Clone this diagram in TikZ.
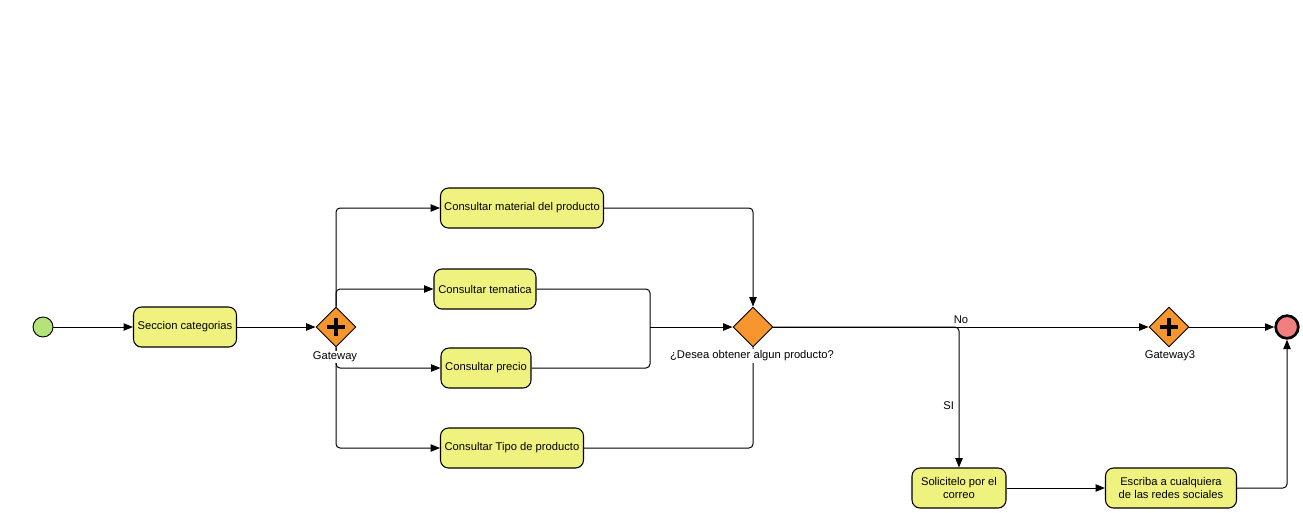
\documentclass[tikz,border=0pt]{standalone}
\usepackage{fontspec}
\setmainfont{Liberation Sans}
\usetikzlibrary{calc,shapes.geometric,arrows.meta}
\definecolor{taskyellow}{RGB}{240,242,128}
\definecolor{gworange}{RGB}{247,150,46}
\definecolor{startgreen}{RGB}{182,226,122}
\definecolor{endred}{RGB}{240,128,128}

\begin{document}
\begin{tikzpicture}[x=0.75pt, y=-0.75pt, font=\fontsize{8.4}{10}\selectfont,
  task/.style={draw, line width=0.8pt, fill=taskyellow, rounded corners=6pt, align=center, inner sep=0pt, minimum height=30pt},
  gate/.style={diamond, draw, line width=0.7pt, fill=gworange, inner sep=0pt, minimum width=30pt, minimum height=30pt},
  flow/.style={line width=0.75pt, rounded corners=3pt, -{Triangle[length=7pt,width=5.5pt]}},
  line/.style={line width=0.75pt, rounded corners=3pt}]
  \useasboundingbox (0,0) rectangle (1303,512);

  \def\drawTask#1#2#3#4#5{
    \node[task, minimum width={#4*0.75pt}] (#1) at (#2,#3) {#5};
  }
  \def\drawPlus#1{
    \draw[line width=3pt] ($(#1.center)+(-9,0)$) -- ($(#1.center)+(9,0)$);
    \draw[line width=3pt] ($(#1.center)+(0,-9)$) -- ($(#1.center)+(0,9)$);
  }

  \node[circle, draw, line width=0.7pt, fill=startgreen, minimum size=15pt, inner sep=0pt] (start) at (43,327) {};
  \drawTask{secc}{185}{327}{103}{Seccion categorias}
  \node[gate] (gw) at (336,327) {};
  \drawPlus{gw}

  \drawTask{mat}{522}{208}{163}{Consultar material del producto}
  \drawTask{tem}{485}{289}{102}{Consultar tematica}
  \drawTask{pre}{486}{368}{90}{Consultar precio}
  \drawTask{tip}{512}{448}{143}{Consultar Tipo de producto}

  \node[gate] (q) at (753,327) {};
  \coordinate (join) at (650,327);

  \node[gate] (gw3) at (1169,327) {};
  \drawPlus{gw3}
  \node[circle, draw, line width=2pt, fill=endred, minimum size=17pt, inner sep=0pt] (fin) at (1287,327) {};

  \drawTask{sol}{959}{488}{94}{Solicitelo por el\\correo}
  \drawTask{esc}{1171}{488}{131}{Escriba a cualquiera\\de las redes sociales}

  \draw[flow] (start) -- (secc);
  \draw[flow] (secc) -- (gw.west);
  \draw[flow] (gw.north) |- (mat.west);
  \draw[flow] (gw.north) |- (tem.west);
  \draw[flow] (gw.south) |- (pre.west);
  \draw[flow] (gw.south) |- (tip.west);
  \draw[flow] (mat.east) -| (q.north);
  \draw[line] (tem.east) -| (join);
  \draw[line] (pre.east) -| (join);
  \draw[flow] (join) -- (q.west);
  \draw[line] (tip.east) -| (q.south);
  \node[fill=white, inner sep=1pt] (gwlab) at (335,357) {Gateway};
  \node[fill=white, inner sep=1pt] (qlab) at (752,356) {¿Desea obtener algun producto?};
  \node[fill=white, inner sep=1pt] (gw3lab) at (1170,356) {Gateway3};

  \draw[flow] (q.east) -- (gw3.west) node[pos=0.5, above=-1pt] (nolab) {No};
  \draw[flow] (q.east) -| (sol.north) node[pos=0.78, left] (silab) {SI};
  \draw[flow] (gw3.east) -- (fin.west);
  \draw[flow] (sol.east) -- (esc.west);
  \draw[flow] (esc.east) -| (fin.south);
\end{tikzpicture}
\end{document}
